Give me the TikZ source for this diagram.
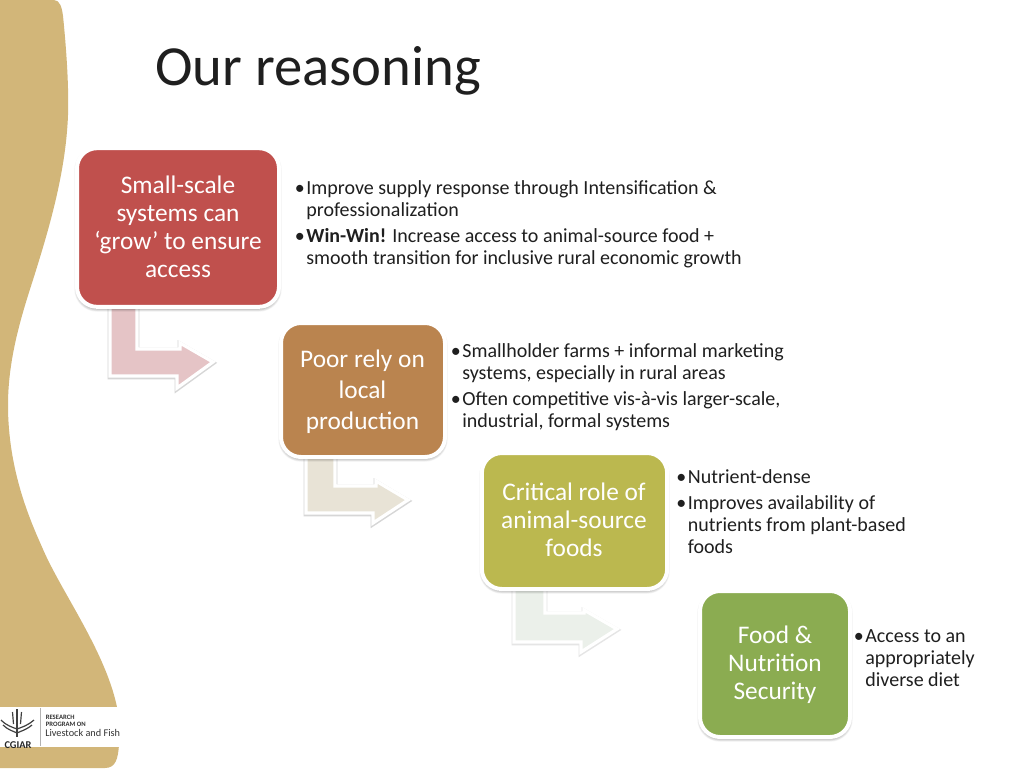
\documentclass[tikz,border=0pt]{standalone}
\usepackage{fontspec}
\setmainfont{Carlito}
\definecolor{blob}{HTML}{D2B679}
\definecolor{txtc}{HTML}{1F1F1F}
\definecolor{cA}{HTML}{C0504D}
\definecolor{cB}{HTML}{BA844F}
\definecolor{cC}{HTML}{BBB84F}
\definecolor{cD}{HTML}{8BAC51}
\definecolor{aA}{HTML}{E5C4C6}
\definecolor{aB}{HTML}{E8E3D6}
\definecolor{aC}{HTML}{EBF0EA}
\tikzset{
  x=0.75pt,y=-0.75pt,
  softshadow/.style={draw=black,line join=round,rounded corners=15pt,opacity=0.05,fill=black,fill opacity=0.05},
  boxstyle/.style={draw=white,line width=3pt,rounded corners=15pt,inner sep=0pt},
  boxtext/.style={inner sep=0pt,align=center,text=white,font=\fontsize{19}{21}\selectfont},
  bulletlist/.style={anchor=north west,inner sep=0pt,text=txtc,align=left,font=\fontsize{15}{16.5}\selectfont},
  arrowedge/.style={draw=black!16,fill=black!16,line width=3.4pt,line join=miter},
  arrowshape/.style={draw=white,line width=2.4pt,line join=miter},
}
\newcommand{\bul}{\makebox[7.6pt][l]{\hspace*{-1pt}\textbullet}}
\newcommand{\cont}{\hspace*{7.6pt}}
\newcommand{\softbox}[4]{%
  \foreach \g in {1,2,3,4}{\fill[softshadow,line width=\g*1pt] (#1,#2+2) rectangle (#3,#4+2);}}
\begin{document}
\begin{tikzpicture}
\useasboundingbox (0,0) rectangle (1024,768);
\fill[white] (0,0) rectangle (1024,768);
% background blob
\fill[blob] (0,0) -- (54,0) .. controls (60,0) and (62,8) .. (63,16)
  .. controls (66,45) and (69,85) .. (68,115)
  .. controls (66,170) and (50,225) .. (37,267)
  .. controls (27,300) and (8,350) .. (8,405)
  .. controls (8,470) and (30,520) .. (42,547)
  .. controls (60,590) and (105,650) .. (117,707)
  -- (119,745) .. controls (118,758) and (116,768) .. (105,768)
  -- (0,768) -- cycle;
% logo band
\fill[white] (0,707) rectangle (120,747);
\draw[gray!60,line width=0.4pt] (40.5,708) -- (40.5,746);
\node (logoa) [anchor=west,inner sep=0pt,font=\bfseries\fontsize{5}{5.3}\selectfont,align=left,text=black!80] at (45.5,720.5) {RESEARCH\\PROGRAM ON};
\node (logob) [anchor=west,inner sep=0pt,font=\fontsize{7.7}{9}\selectfont,text=black!80] at (45,733) {Livestock and Fish};
\begin{scope}[black!75,line width=0.9pt]
  \draw (17,709) -- (17,737);
  \draw (12.5,712) -- (13.5,724) (21.5,712) -- (20.5,724);
  \draw (1,720) .. controls (7,726) and (12,727) .. (17,729) .. controls (22,727) and (27,726) .. (34,720);
  \draw (3,725) .. controls (8,730) and (13,731) .. (17,733) .. controls (21,731) and (26,730) .. (32,725);
\end{scope}
\node (logoc) [anchor=south,inner sep=0pt,font=\bfseries\fontsize{7.8}{8}\selectfont,text=black!85] at (18,749) {CGIAR};
% title
\node (title) [anchor=base west,inner sep=0pt,font=\fontsize{42.5}{44}\selectfont,text=txtc] at (155,85) {Our reasoning};
% arrows
\def\arrowA{(110,300) -- (110,376) -- (177,376) -- (177,388) -- (213,362) -- (180,343) -- (180,349) -- (137,349) -- (137,300) -- cycle}
\def\arrowAb{(110,301) -- (110,377) -- (177,377) -- (177,389) -- (213,363) -- (180,344) -- (180,350) -- (137,350) -- (137,301) -- cycle}
\draw[arrowedge] \arrowAb;
\draw[arrowshape,fill=aA] \arrowA;
\def\arrowB{(306,450) -- (306,513) -- (373,513) -- (373,523) -- (408,500) -- (376,481) -- (376,486) -- (335,486) -- (335,450) -- cycle}
\def\arrowBb{(306,451) -- (306,514) -- (373,514) -- (373,524) -- (408,501) -- (376,482) -- (376,487) -- (335,487) -- (335,451) -- cycle}
\draw[arrowedge] \arrowBb;
\draw[arrowshape,fill=aB] \arrowB;
\def\arrowC{(514,585) -- (514,642) -- (581,642) -- (581,652) -- (617,629) -- (584,610) -- (584,613) -- (545,613) -- (545,585) -- cycle}
\def\arrowCb{(514,586) -- (514,643) -- (581,643) -- (581,653) -- (617,630) -- (584,611) -- (584,614) -- (545,614) -- (545,586) -- cycle}
\draw[arrowedge,black!10] \arrowCb;
\draw[arrowshape,fill=aC] \arrowC;
% boxes
\softbox{77}{148}{279}{307}
\node (b1) [boxstyle,fill=cA,minimum width=151.5pt,minimum height=119pt] at (178,227.5) {};
\node (t1) [boxtext] at (178,227) {Small-scale\\systems can\\‘grow’ to ensure\\access};
\softbox{281}{323}{445}{457}
\node (b2) [boxstyle,fill=cB,minimum width=123pt,minimum height=100.5pt] at (363,390) {};
\node (t2) [boxtext,font=\fontsize{19}{23.3}\selectfont] at (362.5,392) {Poor rely on\\local\\production};
\softbox{482}{453}{667}{589}
\node (b3) [boxstyle,fill=cC,minimum width=139pt,minimum height=102pt] at (574.5,521) {};
\node (t3) [boxtext] at (574,520) {Critical role of\\animal-source\\foods};
\softbox{700}{591}{850}{737}
\node (b4) [boxstyle,fill=cD,minimum width=112.5pt,minimum height=109.5pt] at (775,664) {};
\node (t4) [boxtext] at (775,665) {Food \&\\Nutrition\\Security};
% lists
\node (l1) [bulletlist] at (296,180.5) {\bul Improve supply response through Intensification \&\\\cont professionalization\\[3pt]\bul\textbf{Win-Win!} Increase access to animal-source food +\\\cont smooth transition for inclusive rural economic growth};
\node (l2) [bulletlist] at (452,343.5) {\bul Smallholder farms + informal marketing\\\cont systems, especially in rural areas\\[3pt]\bul Often competitive vis-à-vis larger-scale,\\\cont industrial, formal systems};
\node (l3) [bulletlist] at (677.5,469.5) {\bul Nutrient-dense\\[3pt]\bul Improves availability of\\\cont nutrients from plant-based\\\cont foods};
\node (l4) [bulletlist] at (855,629.5) {\bul Access to an\\\cont appropriately\\\cont diverse diet};
\end{tikzpicture}
\end{document}
